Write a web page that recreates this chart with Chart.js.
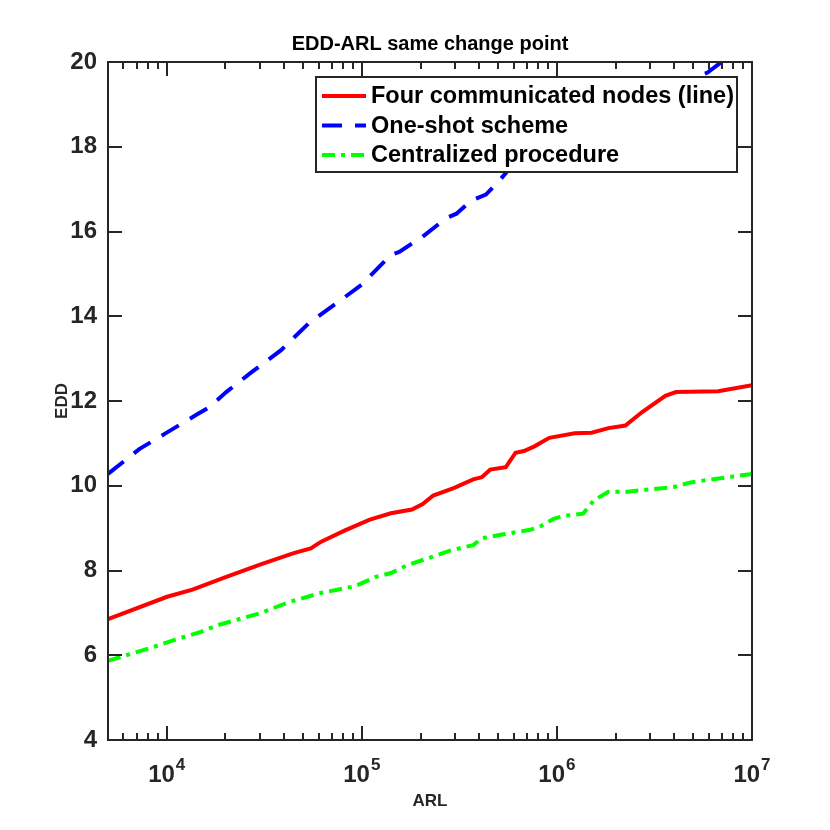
<!DOCTYPE html>
<html>
<head>
<meta charset="utf-8">
<script src="https://cdn.jsdelivr.net/npm/chart.js@4.4.1/dist/chart.umd.min.js"></script>
<style>
  body { margin: 0; background: #fff; }
  #wrap { width: 830px; height: 830px; }
</style>
</head>
<body>
<div id="wrap"><canvas id="eddChart" width="830" height="830"></canvas></div>
<script>
// values
var redArl  = [5000, 10050, 13550, 20200, 30060, 44770, 54700, 61940, 81470, 109900, 140900, 180700, 205100, 232300, 297800, 372400, 412100, 455000, 547000, 613800, 677500, 767400, 914100, 1233000, 1507000, 1837000, 2244000, 2735000, 3597000, 4074000, 6714000, 10000000];
var redEdd  = [6.85, 7.38, 7.55, 7.85, 8.14, 8.41, 8.52, 8.68, 8.94, 9.20, 9.35, 9.44, 9.57, 9.77, 9.95, 10.15, 10.20, 10.38, 10.44, 10.78, 10.82, 10.93, 11.13, 11.24, 11.25, 11.36, 11.42, 11.74, 12.12, 12.21, 12.23, 12.37];

var blueArl = [5000, 7261, 10050, 14260, 16520, 20180, 27230, 38550, 53330, 73790, 99540, 140900, 155600, 205100, 269800, 305500, 363900, 432500, 502300, 600000, 1000000, 2000000, 4000000, 5916000, 6887000, 10000000];
var blueEdd = [10.28, 10.87, 11.26, 11.68, 11.85, 12.21, 12.68, 13.20, 13.83, 14.30, 14.74, 15.45, 15.52, 15.88, 16.31, 16.42, 16.73, 16.87, 17.18, 17.6, 18.2, 18.9, 19.45, 19.75, 19.98, 20.55];

var greenArl = [5000, 8222, 11090, 14960, 18280, 30060, 42660, 60390, 92260, 118300, 140900, 172200, 232300, 283100, 372400, 412100, 542000, 731100, 827900, 961600, 1089000, 1361000, 1542000, 1837000, 2301000, 3972000, 4853000, 10000000];
var greenEdd = [5.87, 6.17, 6.37, 6.55, 6.71, 6.99, 7.26, 7.46, 7.63, 7.85, 7.94, 8.13, 8.33, 8.47, 8.60, 8.76, 8.86, 8.96, 9.05, 9.22, 9.29, 9.34, 9.65, 9.86, 9.86, 9.97, 10.08, 10.28];

var seriesNames = ["Four communicated nodes (line)", "One-shot scheme", "Centralized procedure"];
var xMajorTicks = [1e4, 1e5, 1e6, 1e7];
var xTickBase = "10";
var xTickExps = ["4", "5", "6", "7"];
var yTicks = [4, 6, 8, 10, 12, 14, 16, 18, 20];

var axisColor = '#262626';
var fontFamily = '"Liberation Sans", Arial, Helvetica, sans-serif';

function pts(xs, ys) {
  return xs.map(function (v, i) { return { x: v, y: ys[i] }; });
}

// minor ticks 2..9 of every decade inside the axis range
var xAllTicks = [];
[1e3].concat(xMajorTicks).forEach(function (d) {
  for (var m = 1; m <= 9; m++) {
    var v = m * d;
    if (v >= 5000 && v <= 1e7) xAllTicks.push(v);
  }
});

// box, inward ticks, 10^n labels and the boxed legend, MATLAB style
var frame = {
  id: 'frame',
  afterDatasetsDraw: function (chart) {
    var ctx = chart.ctx, a = chart.chartArea;
    var xs = chart.scales.x, ys = chart.scales.y;
    ctx.save();
    ctx.strokeStyle = axisColor;
    ctx.lineWidth = 2;
    ctx.setLineDash([]);
    ctx.beginPath();
    xAllTicks.forEach(function (v) {
      var px = Math.round(xs.getPixelForValue(v));
      var len = xMajorTicks.indexOf(v) >= 0 ? 14 : 7;
      ctx.moveTo(px, a.bottom); ctx.lineTo(px, a.bottom - len);
      ctx.moveTo(px, a.top); ctx.lineTo(px, a.top + len);
    });
    yTicks.forEach(function (v) {
      var py = Math.round(ys.getPixelForValue(v));
      ctx.moveTo(a.left, py); ctx.lineTo(a.left + 14, py);
      ctx.moveTo(a.right, py); ctx.lineTo(a.right - 14, py);
    });
    ctx.stroke();
    ctx.strokeRect(a.left, a.top, a.right - a.left, a.bottom - a.top);

    // x tick labels as 10 with a raised exponent
    ctx.fillStyle = axisColor;
    ctx.textBaseline = 'alphabetic';
    ctx.textAlign = 'left';
    var baseFont = 'bold 24px ' + fontFamily, expFont = 'bold 17px ' + fontFamily;
    xMajorTicks.forEach(function (v, i) {
      var px = xs.getPixelForValue(v);
      ctx.font = baseFont;
      var w1 = ctx.measureText(xTickBase).width;
      ctx.font = expFont;
      var w2 = ctx.measureText(xTickExps[i]).width;
      var x0 = px - (w1 + w2 + 1) / 2;
      ctx.font = baseFont;
      ctx.fillText(xTickBase, x0, a.bottom + 42);
      ctx.font = expFont;
      ctx.fillText(xTickExps[i], x0 + w1 + 1, a.bottom + 30);
    });

    // legend
    var bw = 421, bh = 95;
    var bx = a.right - 15 - bw, by = a.top + 15;
    ctx.fillStyle = '#fff';
    ctx.fillRect(bx, by, bw, bh);
    ctx.strokeRect(bx, by, bw, bh);
    ctx.font = 'bold 23.5px ' + fontFamily;
    ctx.textBaseline = 'middle';
    ctx.textAlign = 'left';
    chart.data.datasets.forEach(function (ds, i) {
      var ry = by + 19 + i * 29.5;
      ctx.strokeStyle = ds.borderColor;
      ctx.lineWidth = ds.borderWidth;
      ctx.setLineDash(ds.borderDash || []);
      ctx.beginPath();
      ctx.moveTo(bx + 6, ry); ctx.lineTo(bx + 50, ry);
      ctx.stroke();
      ctx.fillStyle = '#000';
      ctx.fillText(ds.label, bx + 55, ry + 1);
    });
    ctx.restore();
  }
};

var ctxL = document.getElementById('eddChart').getContext('2d');
var eddChart = new Chart(ctxL, {
  type: 'line',
  data: {
    datasets: [{
        label: seriesNames[0],
        data: pts(redArl, redEdd),
        borderColor: '#ff0000',
        borderWidth: 4
      },
      {
        label: seriesNames[1],
        data: pts(blueArl, blueEdd),
        borderColor: '#0000ff',
        borderWidth: 4,
        borderDash: [20, 13]
      },
      {
        label: seriesNames[2],
        data: pts(greenArl, greenEdd),
        borderColor: '#00ff00',
        borderWidth: 4,
        borderDash: [13, 6, 4, 6]
      }
    ]
  },
  options: {
    responsive: false,
    animation: false,
    devicePixelRatio: 1,
    elements: { point: { radius: 0 }, line: { tension: 0, fill: false } },
    layout: { padding: { left: 0, right: 78, top: 0, bottom: 0 } },
    plugins: {
      legend: { display: false },
      tooltip: { enabled: false },
      title: {
        display: true,
        fullSize: false,
        text: 'EDD-ARL same change point',
        color: '#000',
        font: { family: fontFamily, size: 20, weight: 'bold' },
        padding: { top: 32, bottom: 6 }
      }
    },
    scales: {
      x: {
        type: 'logarithmic',
        min: 5000,
        max: 1e7,
        grid: { display: false, drawTicks: false },
        border: { display: false },
        afterBuildTicks: function (s) {
          s.ticks = xAllTicks.map(function (v) { return { value: v }; });
        },
        afterFit: function (s) { s.height = 90; },
        ticks: { display: false, autoSkip: false },
        title: {
          display: true,
          text: 'ARL',
          color: '#262626',
          font: { family: fontFamily, size: 17, weight: 'bold' },
          padding: { top: 0, bottom: 18 }
        }
      },
      y: {
        min: 4,
        max: 20,
        grid: { display: false, drawTicks: false },
        border: { display: false },
        afterBuildTicks: function (s) {
          s.ticks = yTicks.map(function (v) { return { value: v }; });
        },
        afterFit: function (s) { s.width = 108; },
        ticks: {
          padding: 11,
          color: '#262626',
          font: { family: fontFamily, size: 24, weight: 'bold' }
        },
        title: {
          display: true,
          text: 'EDD',
          color: '#262626',
          font: { family: fontFamily, size: 17, weight: 'bold' },
          padding: { top: 52, bottom: 0 }
        }
      }
    }
  },
  plugins: [frame]
});
</script>
</body>
</html>
